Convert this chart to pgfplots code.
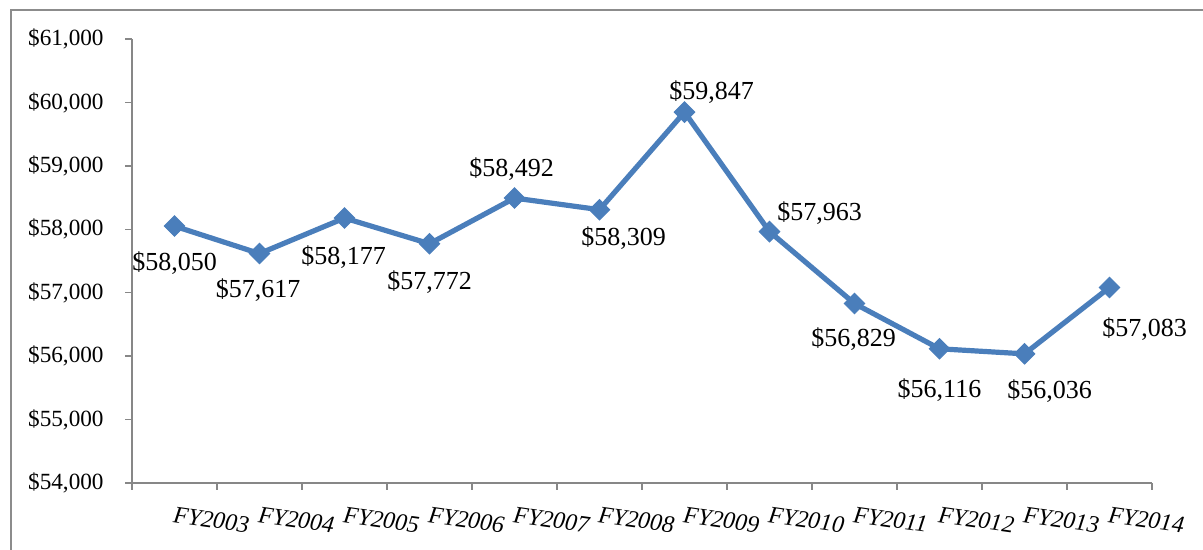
\documentclass[border=0pt]{standalone}
\usepackage{pgfplots}
\usepackage{pgfplotstable}
\pgfplotsset{compat=1.18}
\usepackage{fontspec}
\setmainfont{Liberation Serif}
\definecolor{serblue}{HTML}{4A7EBB}
\definecolor{axgray}{HTML}{878787}
\definecolor{framegray}{HTML}{8C8C8C}
\pgfplotstableread{
x y dx dy
0 58050 0 -18.5
1 57617 -0.75 -18.5
2 58177 -0.5 -19.5
3 57772 0 -19
4 58492 -1.5 14.5
5 58309 12 -14
6 59847 13.5 10
7 57963 25 9.5
8 56829 -0.5 -18
9 56116 0 -20.5
10 56036 12.5 -18.5
11 57083 17.5 -21
}\data
\begin{document}
\begin{tikzpicture}
\useasboundingbox (0,0) rectangle (601.5pt,275pt);
\draw[framegray, line width=1pt] (5.5pt,-2pt) -- (5.5pt,270pt) -- (605pt,270pt);
\begin{axis}[
  at={(66pt,33.5pt)}, anchor=south west,
  scale only axis, width=510pt, height=222pt,
  axis x line*=bottom, axis y line*=left,
  axis line style={axgray, line width=0.75pt},
  every tick/.style={axgray, line width=0.75pt},
  xmin=-0.5, xmax=11.5, ymin=54000, ymax=61000,
  ytick={54000,55000,...,61000},
  scaled y ticks=false,
  xtick={0,...,11},
  xticklabels={FY2003,FY2004,FY2005,FY2006,FY2007,FY2008,FY2009,FY2010,FY2011,FY2012,FY2013,FY2014},
  minor xtick={-0.5,0.5,...,11.5},
  major x tick style={draw=none},
  tick align=outside,
  major tick length=3.5pt, minor tick length=3.5pt,
  /pgf/number format/assume math mode=true,
  /pgf/number format/.cd, fixed, precision=0, 1000 sep={,}, /pgfplots/.cd,
  yticklabel={\$\pgfmathprintnumber{\tick}},
  yticklabel style={anchor=east, inner sep=0pt, xshift=-10.5pt, font=\fontsize{11.6}{14}\selectfont},
  xticklabel style={anchor=north west, inner sep=0pt, yshift=-8pt, rotate=-8, font=\fontsize{12}{14}\selectfont\itshape},
  clip=false,
]
\addplot[serblue, line width=2.6pt, mark=square*,
  mark size=3.6pt, mark options={solid, rotate=45, fill=serblue, draw=serblue, line width=0.5pt},
  visualization depends on={\thisrow{dx} \as \labdx},
  visualization depends on={\thisrow{dy} \as \labdy},
  nodes near coords={\$\pgfmathprintnumber[fixed,precision=0,1000 sep={,}]{\pgfplotspointmeta}},
  every node near coord/.append style={anchor=center, inner sep=0pt, text=black, xshift=\labdx pt, yshift=\labdy pt, font=\fontsize{13}{15}\selectfont},
  point meta=explicit,
] table[x=x, y=y, meta=y] {\data};
\end{axis}
\end{tikzpicture}
\end{document}
